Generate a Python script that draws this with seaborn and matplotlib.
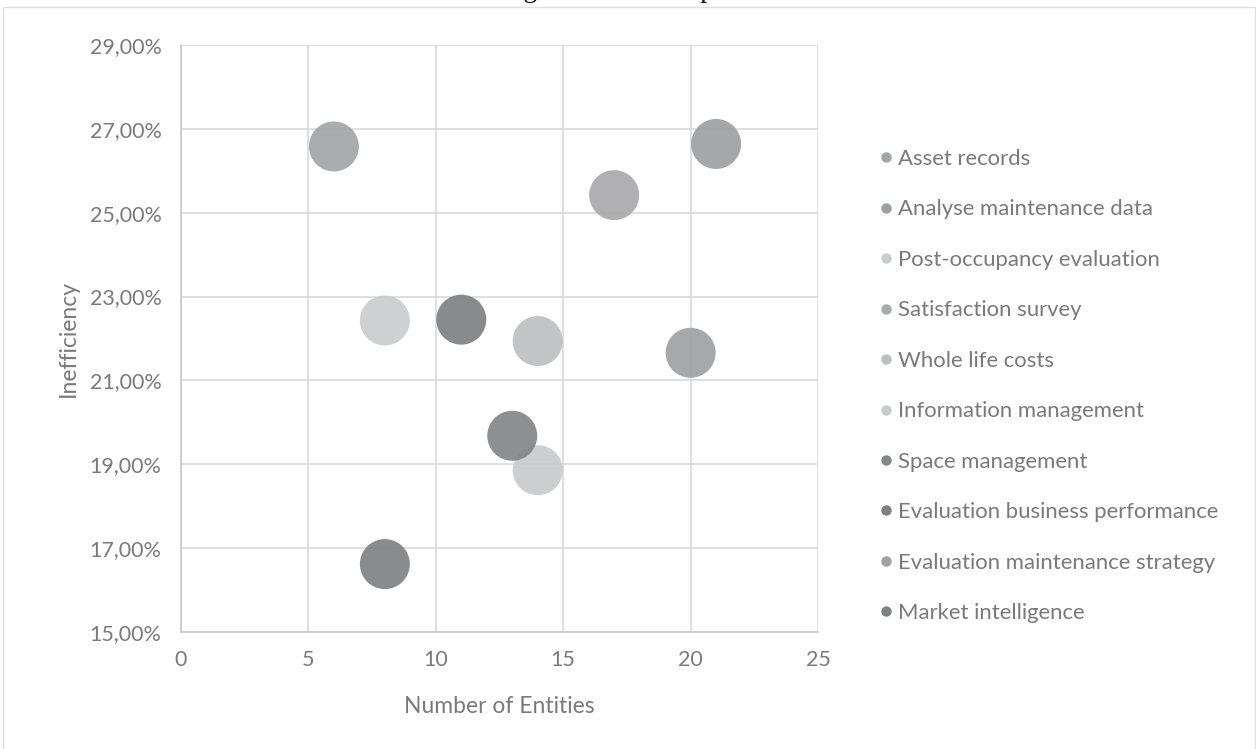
import matplotlib
matplotlib.use("Agg")
import matplotlib.pyplot as plt
from matplotlib.lines import Line2D
from matplotlib.patches import Rectangle
from matplotlib.ticker import FuncFormatter
import seaborn as sns
import pandas as pd

# Activities, their number of entities and inefficiency (%)
activities = [
    "Asset records",
    "Analyse maintenance data",
    "Post-occupancy evaluation",
    "Satisfaction survey",
    "Whole life costs",
    "Information management",
    "Space management",
    "Evaluation business performance",
    "Evaluation maintenance strategy",
    "Market intelligence",
]
entities = [6, 21, 8, 17, 14, 14, 13, 11, 20, 8]
inefficiency = [26.58, 26.64, 22.43, 25.42, 21.94, 18.86, 19.68, 22.45, 21.66, 16.62]
colors = [
    "#a4a5a8", "#9fa0a3", "#cbcccd", "#a9aaad", "#bebfc1",
    "#c9cacb", "#85868a", "#7f8083", "#a0a1a4", "#808184",
]

y_ticks = [15, 17, 19, 21, 23, 25, 27, 29]
x_ticks = [0, 5, 10, 15, 20, 25]

df = pd.DataFrame({"Activity": activities, "Entities": entities, "Inefficiency": inefficiency})
palette = dict(zip(activities, colors))

sns.set_theme(style="white")
plt.rcParams["font.family"] = ["Lato", "DejaVu Sans"]

text_grey = "#7a7a7a"
grid_grey = "#d9d9d9"

fig = plt.figure(figsize=(12.56, 7.49), dpi=100)
fig.patch.set_facecolor("white")
ax = fig.add_axes([0.1441, 0.1562, 0.6513 - 0.1441, 0.9399 - 0.1562])

sns.scatterplot(
    data=df, x="Entities", y="Inefficiency", hue="Activity",
    palette=palette, s=1296, alpha=0.92, edgecolor="none",
    legend=False, ax=ax, zorder=3,
)

ax.set_xlim(0, 25)
ax.set_ylim(15, 29)
ax.set_yticks(y_ticks)
ax.set_xticks(x_ticks)
ax.yaxis.set_major_formatter(FuncFormatter(lambda v, _: f"{v:.2f}".replace(".", ",") + "%"))

ax.grid(True, color=grid_grey, linewidth=1.2, zorder=0)
ax.set_axisbelow(True)
for side in ["top", "right"]:
    ax.spines[side].set_visible(False)
for side in ["left", "bottom"]:
    ax.spines[side].set_color("#c8c8c8")
    ax.spines[side].set_linewidth(1.2)

ax.tick_params(axis="both", which="major", length=6, width=1.2, color="#c8c8c8",
               labelsize=15.5, labelcolor=text_grey, direction="out", pad=7)
ax.tick_params(axis="y", pad=8)

ax.set_xlabel("Number of Entities", fontsize=16.5, color=text_grey, labelpad=19)
ax.set_ylabel("Inefficiency", fontsize=16.5, color=text_grey, labelpad=8)

handles = [
    Line2D([0], [0], marker="o", linestyle="none", markersize=7.5,
           markerfacecolor=c, markeredgecolor="none", label=a)
    for a, c in zip(activities, colors)
]
leg = fig.legend(
    handles=handles, loc="upper left", bbox_to_anchor=(0.692, 0.816),
    frameon=False, fontsize=15.9, labelcolor=text_grey,
    handlelength=0.55, handletextpad=0.25, labelspacing=1.38, borderpad=0,
)

fig.text(0.483, 1.004, "Figure 16 IPO map", ha="center", va="baseline",
         fontsize=20, color="#111111", family=["Liberation Serif", "DejaVu Serif"])

fig.patches.append(Rectangle((3 / 1256, -0.01), 1252 / 1256, 1 - 7 / 749 + 0.01,
                             transform=fig.transFigure, fill=False,
                             edgecolor="#e0e0e0", linewidth=1.0))

fig.savefig("out.png", dpi=100, facecolor="white")
